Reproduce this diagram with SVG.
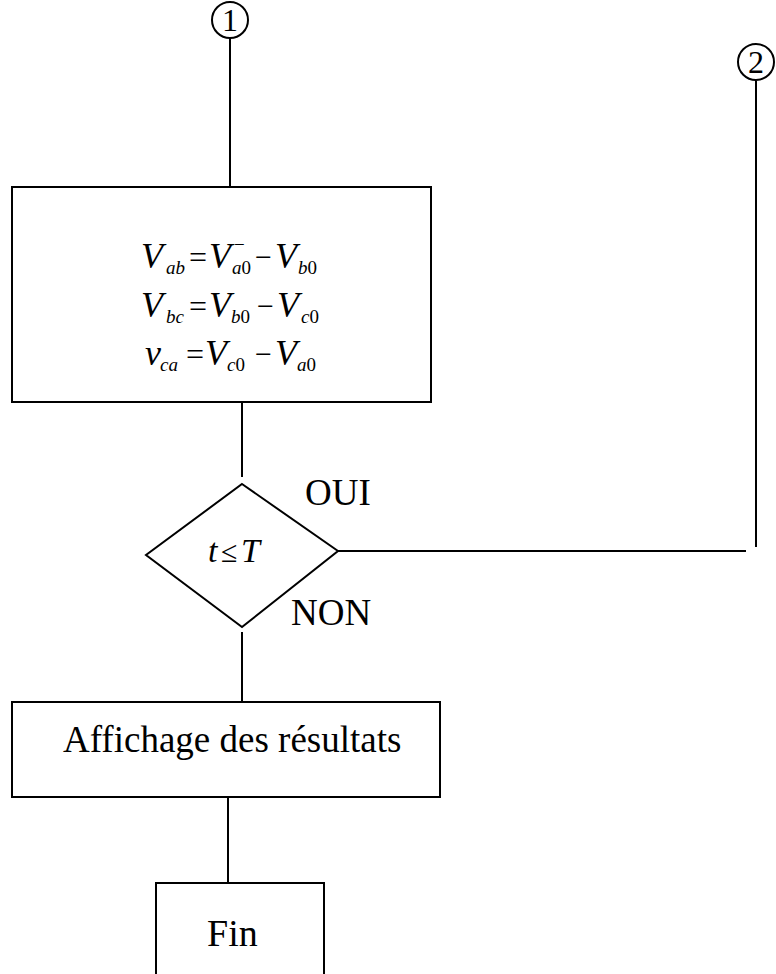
<svg xmlns="http://www.w3.org/2000/svg" width="776" height="974" viewBox="0 0 776 974">
  <style>
    .box { fill: #fff; stroke: #000; stroke-width: 2; }
    .con { fill: none; stroke: #000; stroke-width: 2; }
    .lbl { font-family: "Liberation Serif", "Times New Roman", serif; font-size: 37px; fill: #000; }
    .num { font-family: "Liberation Serif", "Times New Roman", serif; font-size: 32px; fill: #000; }
    .m { font-family: "Liberation Serif", "Times New Roman", serif; font-size: 36px; fill: #000; font-style: italic; }
    .op { font-family: "Liberation Serif", "Times New Roman", serif; font-size: 32px; fill: #000; }
    .mn { font-family: "Liberation Serif", "Times New Roman", serif; font-size: 30px; fill: #000; }
    .s { font-family: "Liberation Serif", "Times New Roman", serif; font-size: 19px; fill: #000; font-style: italic; }
    .up { font-style: normal; }
  </style>

  <!-- connectors -->
  <g id="connectors">
    <line class="con" x1="230" y1="39" x2="230" y2="186"/>
    <line class="con" x1="242" y1="402" x2="242" y2="477"/>
    <line class="con" x1="242" y1="632" x2="242" y2="701"/>
    <line class="con" x1="228" y1="797" x2="228" y2="883"/>
    <line class="con" x1="338" y1="551" x2="746" y2="551"/>
    <line class="con" x1="756" y1="81" x2="756" y2="547"/>
  </g>

  <!-- connector 1 -->
  <g id="conn-1">
    <circle class="box" cx="230" cy="20" r="18"/>
    <text class="num" x="230" y="31" text-anchor="middle">1</text>
  </g>

  <!-- connector 2 -->
  <g id="conn-2">
    <circle class="box" cx="756" cy="62" r="18"/>
    <text class="num" x="756" y="73" text-anchor="middle">2</text>
  </g>

  <!-- line voltages -->
  <g id="calc">
    <rect class="box" x="12" y="187" width="419" height="215"/>
    <!-- V_ab = V_a0^- - V_b0 -->
    <text class="m" x="141" y="268">V</text>
    <text class="s" x="166" y="274">ab</text>
    <text class="op" x="189" y="268">=</text>
    <text class="m" x="209" y="268">V</text>
    <text class="s up" x="234" y="251">−</text>
    <text class="s" x="232" y="274">a<tspan class="up">0</tspan></text>
    <text class="mn" x="255" y="267">−</text>
    <text class="m" x="275" y="268">V</text>
    <text class="s" x="298" y="274">b<tspan class="up">0</tspan></text>
    <!-- V_bc = V_b0 - V_c0 -->
    <text class="m" x="141" y="317">V</text>
    <text class="s" x="166" y="323">bc</text>
    <text class="op" x="189" y="317">=</text>
    <text class="m" x="209" y="317">V</text>
    <text class="s" x="231" y="323">b<tspan class="up">0</tspan></text>
    <text class="mn" x="257" y="316">−</text>
    <text class="m" x="277" y="317">V</text>
    <text class="s" x="301" y="323">c<tspan class="up">0</tspan></text>
    <!-- v_ca = V_c0 - V_a0 -->
    <text class="m" x="145" y="365">v</text>
    <text class="s" x="160" y="371">ca</text>
    <text class="op" x="186" y="365">=</text>
    <text class="m" x="205" y="365">V</text>
    <text class="s" x="227" y="371">c<tspan class="up">0</tspan></text>
    <text class="mn" x="255" y="364">−</text>
    <text class="m" x="275" y="365">V</text>
    <text class="s" x="297" y="371">a<tspan class="up">0</tspan></text>
  </g>

  <!-- test t <= T -->
  <g id="test">
    <polygon class="box" points="242,484 338,551 242,627 146,555"/>
    <text class="m" x="208" y="562" style="font-size:34px">t</text>
    <text class="op" x="221" y="562" style="font-size:30px">≤</text>
    <text class="m" x="241" y="562" style="font-size:34px">T</text>
    <text class="lbl" x="305" y="505">OUI</text>
    <text class="lbl" x="291" y="625">NON</text>
  </g>

  <!-- results -->
  <g id="display">
    <rect class="box" x="12" y="702" width="428" height="95"/>
    <text class="lbl" x="63" y="752">Affichage des résultats</text>
  </g>

  <!-- end -->
  <g id="end">
    <rect class="box" x="156" y="883" width="168" height="100"/>
    <text class="lbl" x="207" y="946" style="font-size:38px">Fin</text>
  </g>
</svg>
